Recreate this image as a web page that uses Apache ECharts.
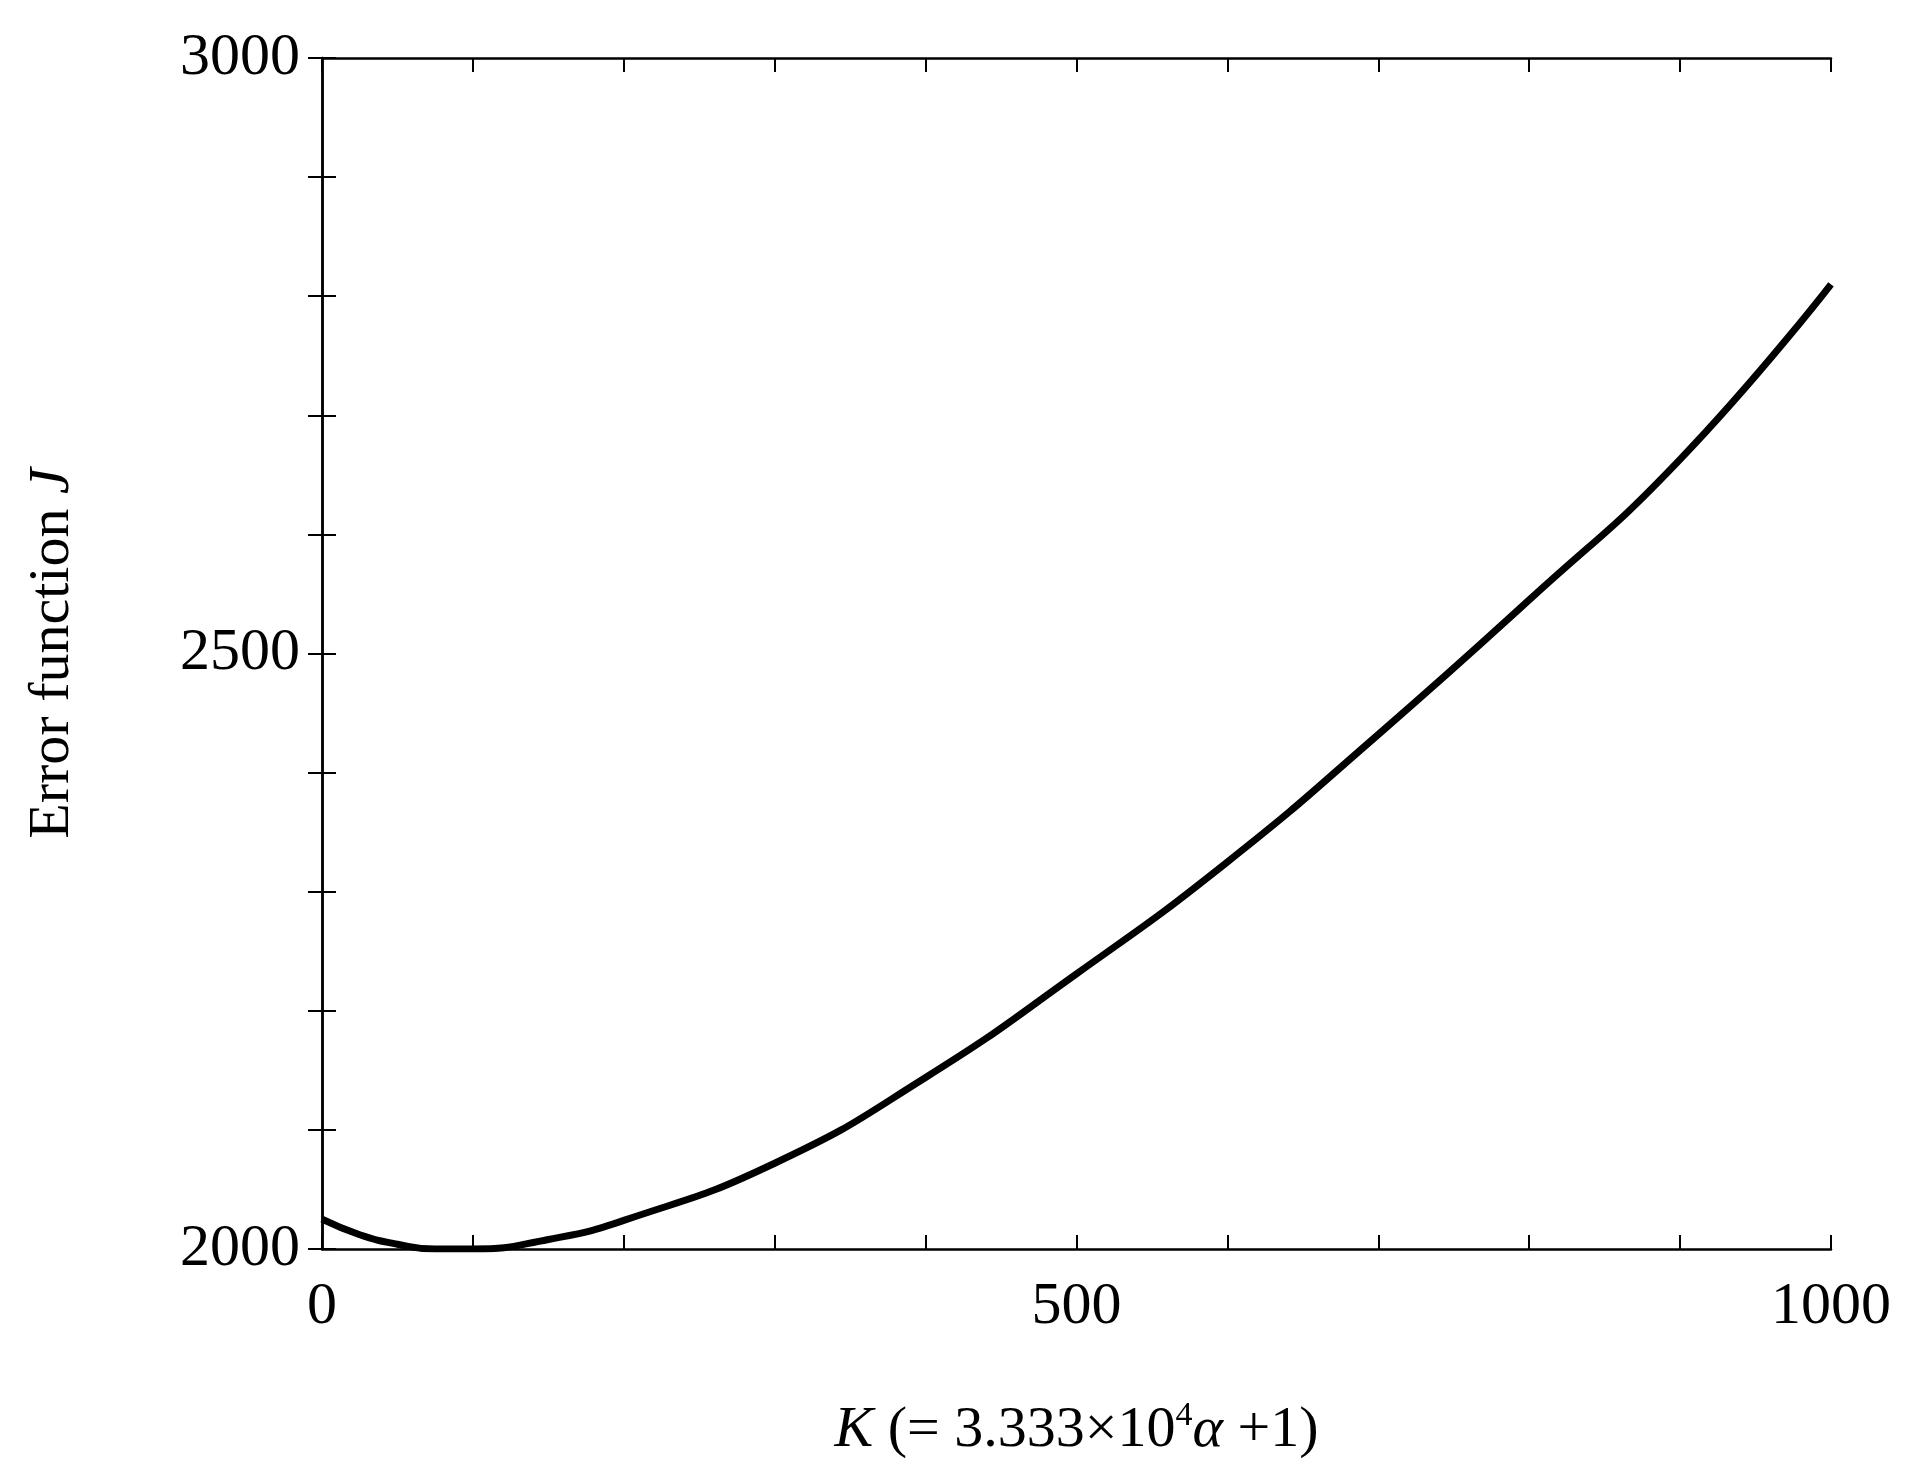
<!DOCTYPE html>
<html><head><meta charset="utf-8">
<script src="https://cdn.jsdelivr.net/npm/echarts@6/dist/echarts.min.js"></script>
<style>html,body{margin:0;background:#fff}#c{width:1911px;height:1482px}</style>
</head><body><div id="c"></div>
<script>
// values
var kValues = [0, 25, 50, 75, 100, 150, 200, 300, 400, 500, 600, 700, 800, 900, 1000];
var jValues = [2025, 2012, 2004, 2000, 2000, 2008, 2024, 2072, 2144, 2231, 2325, 2432, 2545, 2663, 2810];
var xLabelTicks = [0, 500, 1000];
var yLabelTicks = [2000, 2500, 3000];

var font = '"Liberation Serif", "DejaVu Serif", serif';
var tickStyle = { show: true, inside: true, length: 14, lineStyle: { color: '#000', width: 2 } };
var lineStyle = { color: '#000', width: 2.5 };

var chart = echarts.init(document.getElementById('c'));
chart.setOption({
    animation: false,
    grid: { left: 322, right: 80, top: 58, bottom: 233 },
    xAxis: [{
        type: 'value', min: 0, max: 1000, interval: 100,
        axisLine: { lineStyle: lineStyle }, axisTick: tickStyle, splitLine: { show: false },
        axisLabel: {
            margin: 28, fontFamily: font, fontSize: 60, color: '#000',
            formatter: function (v) { return xLabelTicks.indexOf(v) >= 0 ? String(v) : ''; }
        },
        name: '{i|K} (= 3.333×10{s|4}{i|α} +1)',
        nameLocation: 'middle', nameGap: 150,
        nameTextStyle: {
            fontFamily: font, fontSize: 58, color: '#000',
            rich: {
                i: { fontFamily: font, fontSize: 58, fontStyle: 'italic' },
                s: { fontFamily: font, fontSize: 34, verticalAlign: 'top', padding: [0, 0, 30, 0] }
            }
        }
    }, {
        type: 'value', min: 0, max: 1000, interval: 100, position: 'top',
        axisLine: { lineStyle: lineStyle }, axisTick: tickStyle, axisLabel: { show: false }, splitLine: { show: false }
    }],
    yAxis: [{
        type: 'value', min: 2000, max: 3000, interval: 100,
        axisLine: { lineStyle: lineStyle }, axisTick: tickStyle, splitLine: { show: false },
        axisLabel: {
            margin: 22, fontFamily: font, fontSize: 60, color: '#000',
            formatter: function (v) { return yLabelTicks.indexOf(v) >= 0 ? String(v) : ''; }
        },
        name: 'Error function {i|J}',
        nameLocation: 'middle', nameGap: 240,
        nameTextStyle: {
            fontFamily: font, fontSize: 58, color: '#000',
            rich: { i: { fontFamily: font, fontSize: 58, fontStyle: 'italic' } }
        }
    }, {
        type: 'value', min: 2000, max: 3000, interval: 100, position: 'right',
        axisLine: { lineStyle: lineStyle }, axisTick: tickStyle, axisLabel: { show: false }, splitLine: { show: false }
    }],
    series: [{
        type: 'line', smooth: true, showSymbol: false,
        lineStyle: { color: '#000', width: 7 },
        data: kValues.map(function (k, i) { return [k, jValues[i]]; })
    }]
});
</script></body></html>
